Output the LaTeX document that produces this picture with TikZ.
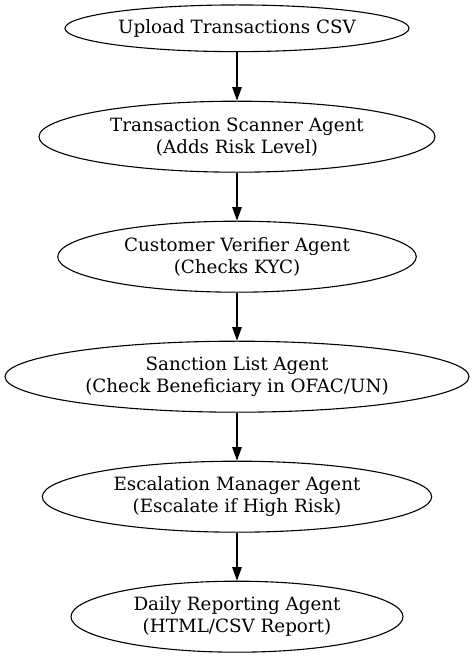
\documentclass[tikz,border=0pt]{standalone}
\usepackage{fontspec}
\setmainfont{DejaVu Serif}
\usetikzlibrary{shapes.geometric,arrows.meta}
\begin{document}
\begin{tikzpicture}[x=1pt,y=1pt,
  agent/.style={draw, ellipse, line width=1.1pt, inner sep=0pt, align=center,
    font=\fontsize{18.3}{22}\selectfont},
  arr/.style={line width=1.1pt, -{Triangle[length=13.5pt,width=9.5pt]}}]
\useasboundingbox (0,0) rectangle (475,657);
\node[agent, minimum width=344pt, minimum height=46.7pt] (e1) at (237,628.7) {Upload Transactions CSV};
\node[agent, minimum width=396pt, minimum height=71pt] (e2) at (237,520.3) {Transaction Scanner Agent\\(Adds Risk Level)};
\node[agent, minimum width=358.6pt, minimum height=71pt] (e3) at (237,400.3) {Customer Verifier Agent\\(Checks KYC)};
\node[agent, minimum width=464pt, minimum height=71pt] (e4) at (237,280.3) {Sanction List Agent\\(Check Beneficiary in OFAC/UN)};
\node[agent, minimum width=389.4pt, minimum height=71pt] (e5) at (237,160.3) {Escalation Manager Agent\\(Escalate if High Risk)};
\node[agent, minimum width=332pt, minimum height=71pt] (e6) at (237,40.3) {Daily Reporting Agent\\(HTML/CSV Report)};
\draw[arr] (e1) -- (e2);
\draw[arr] (e2) -- (e3);
\draw[arr] (e3) -- (e4);
\draw[arr] (e4) -- (e5);
\draw[arr] (e5) -- (e6);
\end{tikzpicture}
\end{document}
